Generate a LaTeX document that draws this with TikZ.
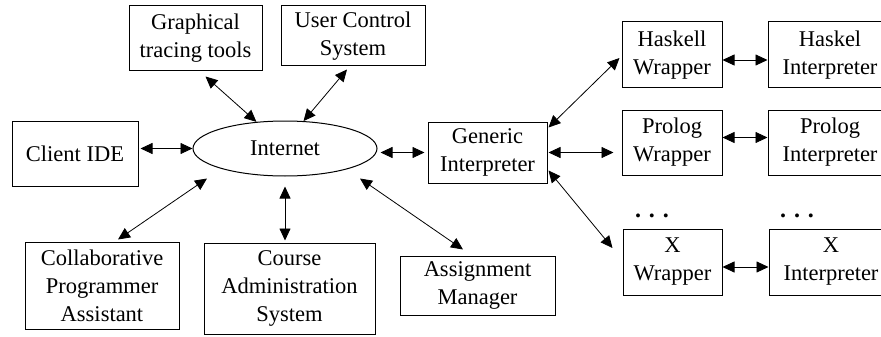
\documentclass[tikz,border=0pt]{standalone}
\usepackage{fontspec}
\setmainfont{Liberation Serif}
\usetikzlibrary{arrows.meta,shapes.geometric}

\begin{document}
\begin{tikzpicture}[x=1pt,y=-1pt,
  blk/.style={draw,line width=1pt,inner sep=0pt,align=center,
              font=\fontsize{22.5}{28}\selectfont},
  net/.style={draw,ellipse,line width=1pt,inner sep=0pt,
              minimum width=184pt,minimum height=55pt,
              font=\fontsize{22.5}{28}\selectfont},
  dots/.style={font=\fontsize{24}{28}\selectfont\bfseries,inner sep=0pt},
  arr/.style={<->,>={Triangle[length=12pt,width=11pt]},line width=0.8pt}]
  \useasboundingbox (0,0) rectangle (881,337);
  % the hub and what sits round it
  \node[net] (net) at (285,148.5) {Internet};
  \node[blk,minimum width=133pt,minimum height=65pt] (gtt) at (195.5,38.5) {Graphical\\tracing tools};
  \node[blk,minimum width=144pt,minimum height=60pt] (ucs) at (353,36) {User Control\\System};
  \node[blk,minimum width=126pt,minimum height=65pt] (ide) at (75,153.5) {Client IDE};
  \node[blk,minimum width=154pt,minimum height=87pt] (cpa) at (102,285.5) {Collaborative\\Programmer\\Assistant};
  \node[blk,minimum width=171pt,minimum height=91pt] (cas) at (289.5,288.5) {Course\\Administration\\System};
  \node[blk,minimum width=155pt,minimum height=59pt] (am) at (477.5,285.5) {Assignment\\Manager};
  \node[blk,minimum width=119pt,minimum height=61pt] (gen) at (487.5,152.5) {Generic\\Interpreter};
  % wrappers and interpreters
  \node[blk,minimum width=100pt,minimum height=66pt] (hwr) at (672,55) {Haskell\\Wrapper};
  \node[blk,minimum width=124pt,minimum height=66pt] (hint) at (830,55) {Haskel\\Interpreter};
  \node[blk,minimum width=100pt,minimum height=65pt] (pwr) at (672,142.5) {Prolog\\Wrapper};
  \node[blk,minimum width=124pt,minimum height=65pt] (pint) at (830,142.5) {Prolog\\Interpreter};
  \node[blk,minimum width=99pt,minimum height=66pt] (xwr) at (672.5,262) {X\\Wrapper};
  \node[blk,minimum width=124pt,minimum height=66pt] (xint) at (831,262) {X\\Interpreter};
  \node[dots] (xwdots) at (652,216) {. . .};
  \node[dots] (xidots) at (797,216) {. . .};
  % links
  \draw[arr] ([xshift=10pt,yshift=-5pt]gtt.south) -- (net.137);
  \draw[arr] ([xshift=-6pt,yshift=-3pt]ucs.south) -- (net.56);
  \draw[arr,shorten <=2pt] (ide.east |- net.west) -- (net.west);
  \draw[arr,shorten <=3pt,shorten >=3pt] (gen.west -| net.east) -- (gen.west);
  \draw[arr] ([xshift=-78pt,yshift=-2pt]net.south) -- ([xshift=16pt,yshift=2pt]cpa.north);
  \draw[arr,shorten <=10pt,shorten >=2pt] (net.south) -- (net.south |- cas.north);
  \draw[arr] ([xshift=75pt,yshift=-2pt]net.south) -- ([xshift=-14.5pt,yshift=6pt]am.north);
  \draw[arr] ([xshift=1pt,yshift=-6pt]gen.north east) -- ([xshift=-2pt,yshift=-3pt]hwr.west);
  \draw[arr,shorten <=1pt,shorten >=8pt] (gen.east) -- (gen.east -| pwr.west);
  \draw[arr] ([xshift=1pt,yshift=13pt]gen.south east) -- ([xshift=-10pt,yshift=14pt]xwr.west);
  \draw[arr] ([yshift=-5pt]hwr.east) -- ([yshift=-5pt]hint.west);
  \draw[arr] ([yshift=5pt]pwr.east) -- ([yshift=5pt]pint.west);
  \draw[arr] ([yshift=-5pt]xwr.east) -- ([yshift=-5pt]xint.west);
\end{tikzpicture}
\end{document}
